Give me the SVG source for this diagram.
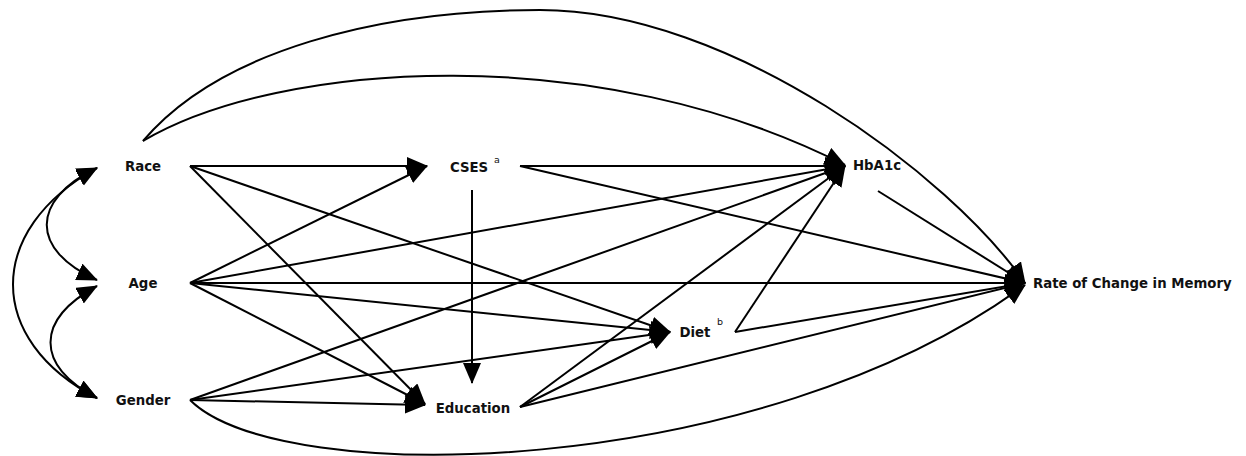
<svg xmlns="http://www.w3.org/2000/svg" width="1246" height="456" viewBox="0 0 1246 456">
<style>
.lbl{font-family:"DejaVu Sans","Liberation Sans",sans-serif;font-weight:bold;font-size:13.3px;fill:#111}
.sup{font-family:"DejaVu Sans","Liberation Sans",sans-serif;font-size:9.5px;fill:#111}
.e{fill:none;stroke:#000;stroke-width:2;marker-end:url(#ah)}
.b{fill:none;stroke:#000;stroke-width:2;marker-start:url(#ah);marker-end:url(#ah)}
</style>
<defs>
<marker id="ah" markerUnits="userSpaceOnUse" markerWidth="22" markerHeight="20" refX="20" refY="9" orient="auto-start-reverse" viewBox="0 0 22 20">
<path d="M0,0 L21,9 L0,18 z" fill="#000"/>
</marker>
</defs>
<rect width="1246" height="456" fill="#fff"/>
<g id="connectors">
<path class="b" d="M97,168 C30,200 30,250 97,280"/>
<path class="b" d="M97,286 C35,320 35,365 97,398"/>
<path class="b" d="M97,168 C-15,230 -15,340 97,398"/>
<path class="e" d="M143,141 C280,60 600,40 845,165"/>
<path class="e" d="M143,141 C220,50 380,10 540,10 C730,10 950,175 1025,283"/>
<path class="e" d="M190,400 C280,490 760,480 1025,285"/>
<path class="e" d="M190,166 L427,166"/>
<path class="e" d="M190,166 L670,332"/>
<path class="e" d="M190,166 L425,404"/>
<path class="e" d="M190,283 L427,166"/>
<path class="e" d="M190,283 L845,166"/>
<path class="e" d="M190,283 L1025,283"/>
<path class="e" d="M190,283 L670,332"/>
<path class="e" d="M190,283 L425,404"/>
<path class="e" d="M190,400 L845,166"/>
<path class="e" d="M190,400 L670,332"/>
<path class="e" d="M190,400 L425,405"/>
<path class="e" d="M520,166 L845,166"/>
<path class="e" d="M520,166 L1025,283"/>
<path class="e" d="M472,190 L472,383"/>
<path class="e" d="M520,407 L845,166"/>
<path class="e" d="M520,407 L670,332"/>
<path class="e" d="M520,407 L1025,283"/>
<path class="e" d="M735,332 L845,166"/>
<path class="e" d="M735,332 L1025,283"/>
<path class="e" d="M878,191 L1025,283"/>
</g>
<g id="race"><text class="lbl" x="143" y="171" text-anchor="middle">Race</text></g>
<g id="age"><text class="lbl" x="143" y="288" text-anchor="middle">Age</text></g>
<g id="gender"><text class="lbl" x="143" y="405" text-anchor="middle">Gender</text></g>
<g id="cses"><text class="lbl" x="469" y="172" text-anchor="middle">CSES</text><text class="sup" x="494" y="163">a</text></g>
<g id="hba1c"><text class="lbl" x="877" y="170" text-anchor="middle">HbA1c</text></g>
<g id="diet"><text class="lbl" x="695" y="337" text-anchor="middle">Diet</text><text class="sup" x="717" y="325">b</text></g>
<g id="education"><text class="lbl" x="473" y="413" text-anchor="middle">Education</text></g>
<g id="rate"><text class="lbl" x="1033" y="288">Rate of Change in Memory</text></g>
</svg>
